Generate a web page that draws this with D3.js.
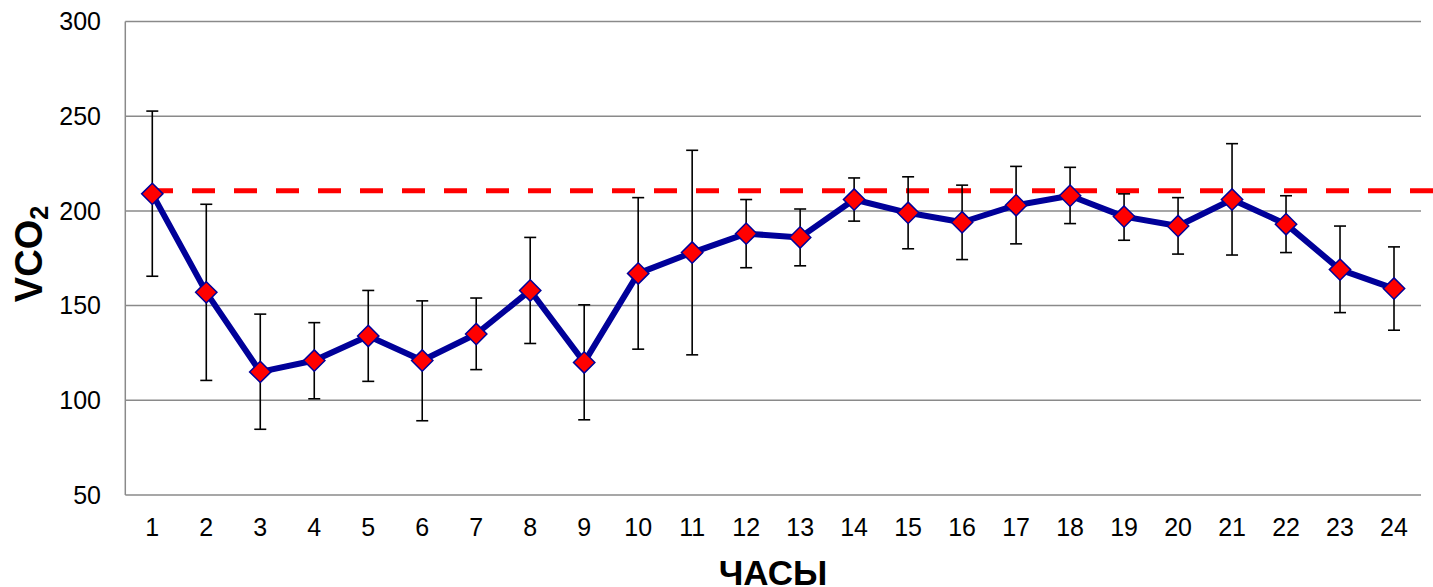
<!DOCTYPE html>
<html>
<head>
    <meta charset="UTF-8">
    <title>VCO2 по часам</title>
    <script src="https://d3js.org/d3.v7.min.js"></script>
    <style>
        body { margin: 0; background: #fff; }
        svg text { font-family: "Liberation Sans", Arial, sans-serif; fill: #000; }
        .grid-line { stroke: #8a8a8a; stroke-width: 1.5; }
        .tick-label { font-size: 25px; }
    </style>
</head>
<body>
<script>
    // данные
    var hours = ["1","2","3","4","5","6","7","8","9","10","11","12","13","14","15","16","17","18","19","20","21","22","23","24"];
    var vco2 = [209, 157, 115, 121, 134, 121, 135, 158, 120, 167, 178, 188, 186, 206, 199, 194, 203, 208, 197, 192, 206, 193, 169, 159];
    var upper = [252.7, 203.5, 145.5, 141, 158, 152.5, 154, 186, 150.4, 207, 232, 206, 201, 217.4, 218, 213.6, 223.5, 223, 209, 207, 235.5, 208, 192, 181];
    var lower = [165.5, 110.5, 84.7, 100.8, 110, 89.2, 116.2, 130, 89.7, 127, 124, 170, 171, 194.6, 180, 174.3, 182.6, 193.3, 184.5, 177.2, 176.7, 178, 146.3, 137];
    var refLevel = 210.6;
    var yTicks = [50, 100, 150, 200, 250, 300];

    var width = 1433, height = 587;
    var plotLeft = 125.3, plotRight = 1421, plotTop = 21.5, plotBottom = 495;

    var svg = d3.select("body").append("svg")
        .attr("width", width)
        .attr("height", height);

    var xScale = d3.scaleBand()
        .domain(hours)
        .range([plotLeft, plotRight]);
    var cx = function (h) { return xScale(h) + xScale.bandwidth() / 2; };

    var yScale = d3.scaleLinear()
        .domain([50, 300])
        .range([plotBottom, plotTop]);

    // горизонтальные линии сетки
    svg.append("g").selectAll("line")
        .data(yTicks)
        .enter().append("line")
        .attr("class", "grid-line")
        .attr("x1", plotLeft)
        .attr("x2", plotRight)
        .attr("y1", function (d) { return yScale(d); })
        .attr("y2", function (d) { return yScale(d); });

    // левая ось
    svg.append("line")
        .attr("class", "grid-line")
        .attr("x1", plotLeft).attr("x2", plotLeft)
        .attr("y1", plotTop).attr("y2", plotBottom);

    // подписи оси Y
    svg.append("g").selectAll("text")
        .data(yTicks)
        .enter().append("text")
        .attr("class", "tick-label")
        .attr("x", 101)
        .attr("y", function (d) { return yScale(d); })
        .attr("dy", "0.35em")
        .attr("text-anchor", "end")
        .text(function (d) { return d; });

    // подписи оси X
    svg.append("g").selectAll("text")
        .data(hours)
        .enter().append("text")
        .attr("class", "tick-label")
        .attr("x", function (d) { return cx(d); })
        .attr("y", 536)
        .attr("text-anchor", "middle")
        .text(function (d) { return d; });

    // красная пунктирная линия
    svg.append("line")
        .attr("x1", 150)
        .attr("x2", width)
        .attr("y1", yScale(refLevel))
        .attr("y2", yScale(refLevel))
        .attr("stroke", "#ff0000")
        .attr("stroke-width", 5)
        .attr("stroke-dasharray", "23,19");

    // планки погрешностей
    var eb = svg.append("g").attr("stroke", "#000").attr("stroke-width", 1.6);
    hours.forEach(function (h, i) {
        var x = cx(h);
        eb.append("line").attr("x1", x).attr("x2", x)
            .attr("y1", yScale(upper[i])).attr("y2", yScale(lower[i]));
        eb.append("line").attr("x1", x - 6).attr("x2", x + 6)
            .attr("y1", yScale(upper[i])).attr("y2", yScale(upper[i]));
        eb.append("line").attr("x1", x - 6).attr("x2", x + 6)
            .attr("y1", yScale(lower[i])).attr("y2", yScale(lower[i]));
    });

    // основная линия
    var line = d3.line()
        .x(function (d, i) { return cx(hours[i]); })
        .y(function (d) { return yScale(d); });

    svg.append("path")
        .datum(vco2)
        .attr("fill", "none")
        .attr("stroke", "#000099")
        .attr("stroke-width", 6)
        .attr("stroke-linejoin", "round")
        .attr("d", line);

    // маркеры-ромбы
    var diamond = d3.symbol().type(d3.symbolDiamond2).size(290);
    svg.append("g").selectAll("path")
        .data(vco2)
        .enter().append("path")
        .attr("d", diamond)
        .attr("transform", function (d, i) { return "translate(" + cx(hours[i]) + "," + yScale(d) + ")"; })
        .attr("fill", "#ff0000")
        .attr("stroke", "#000099")
        .attr("stroke-width", 1.5);

    // заголовки осей
    svg.append("text")
        .attr("x", 773)
        .attr("y", 585)
        .attr("text-anchor", "middle")
        .style("font-size", "35px")
        .style("font-weight", "bold")
        .text("ЧАСЫ");

    var yTitle = svg.append("text")
        .attr("transform", "translate(42,254) rotate(-90)")
        .attr("text-anchor", "middle")
        .style("font-size", "38px")
        .style("font-weight", "bold");
    yTitle.append("tspan").text("VCO");
    yTitle.append("tspan")
        .attr("dy", 6)
        .style("font-size", "25px")
        .text("2");
</script>
</body>
</html>
